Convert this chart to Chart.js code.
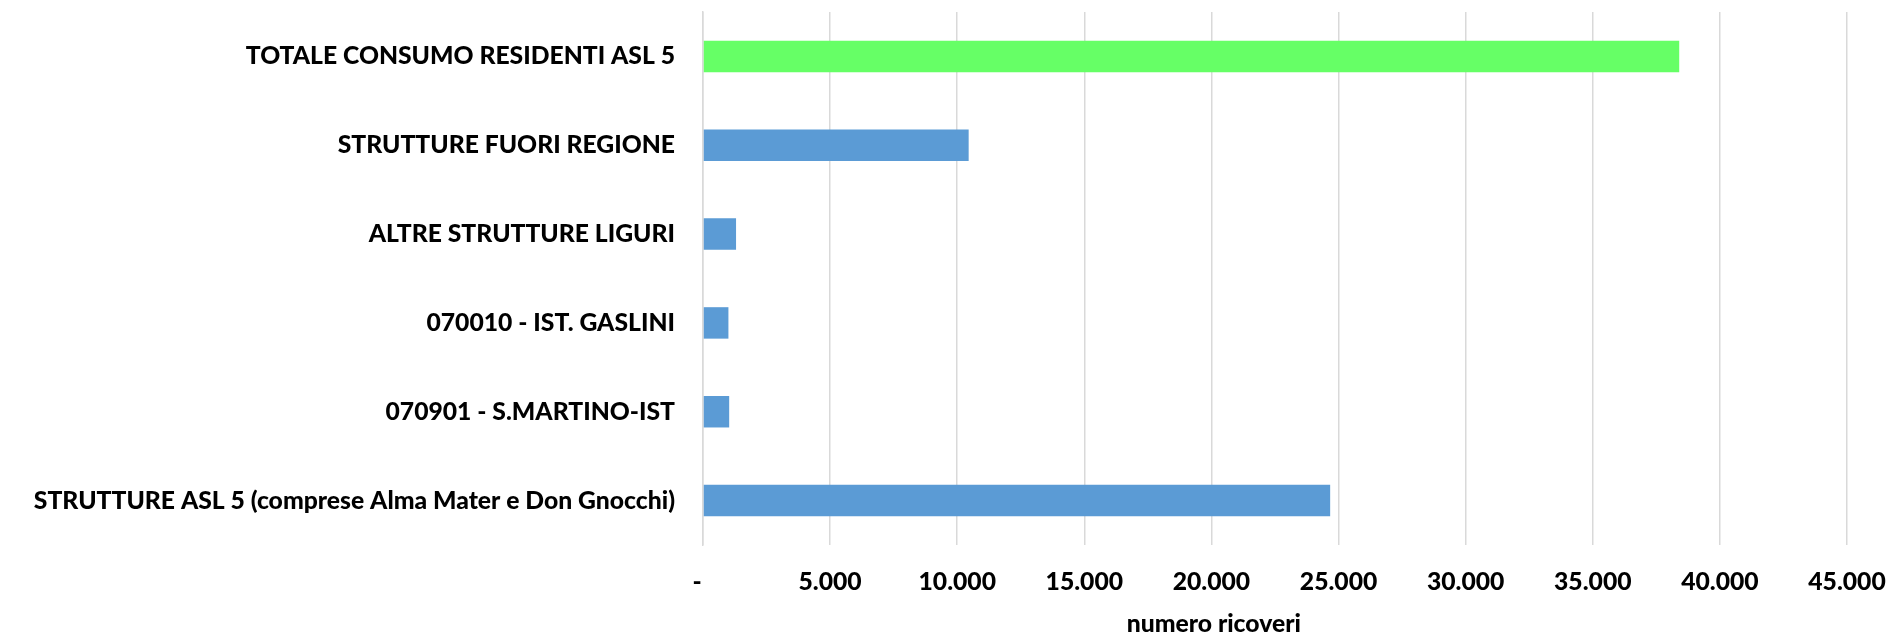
<!DOCTYPE html>
<html><head><meta charset="utf-8">
<script src="https://cdn.jsdelivr.net/npm/chart.js@4.4.0/dist/chart.umd.min.js"></script>
<style>html,body{margin:0;padding:0;background:#fff;overflow:hidden}canvas{display:block}</style>
</head><body><canvas id="c" width="1892" height="635"></canvas>
<script>
const categories = [
  "TOTALE CONSUMO RESIDENTI ASL 5",
  "STRUTTURE FUORI REGIONE",
  "ALTRE STRUTTURE LIGURI",
  "070010 - IST. GASLINI",
  "070901 - S.MARTINO-IST",
  "STRUTTURE ASL 5 (comprese Alma Mater e Don Gnocchi)"
];
const ricoveri = [38400, 10450, 1300, 1000, 1030, 24670];
const barColors = ["#66FF66", "#5B9BD5", "#5B9BD5", "#5B9BD5", "#5B9BD5", "#5B9BD5"];
const xTickValues = [0, 5000, 10000, 15000, 20000, 25000, 30000, 35000, 40000, 45000];
const xTitle = "numero ricoveri";

const FAMILY = "Lato";
const WEIGHT = 900;
const mctx = document.createElement('canvas').getContext('2d');

function fmt(v){
  if (v === 0) return "-  ";
  return String(v).replace(/\B(?=(\d{3})+(?!\d))/g, ".");
}

const titlePlugin = {
  id: 'xtitle',
  afterDraw(chart){
    const ca = chart.chartArea, ctx = chart.ctx;
    ctx.save();
    ctx.font = WEIGHT + " " + chart.options.scales.x.ticks.font.size + "px " + FAMILY;
    ctx.fillStyle = "#000";
    ctx.textAlign = "center";
    ctx.textBaseline = "alphabetic";
    ctx.fillText(xTitle, ca.left + (ca.right - ca.left) * 0.4465, chart.height - 3);
    ctx.restore();
  }
};

document.fonts.load(WEIGHT + " 20px " + FAMILY).then(start, start);
function start(){
mctx.font = WEIGHT + " 100px " + FAMILY;
const r1 = 662 / mctx.measureText(categories[5]).width;
const r2 = 417 / mctx.measureText(categories[0]).width;
const FS = Math.round(100 * Math.sqrt(r1 * r2) * 10) / 10;
new Chart(document.getElementById('c'), {
  type: 'bar',
  data: {
    labels: categories,
    datasets: [{
      data: ricoveri,
      backgroundColor: barColors,
      borderWidth: 0,
      categoryPercentage: 1,
      barPercentage: 0.354
    }]
  },
  options: {
    indexAxis: 'y',
    responsive: false,
    animation: false,
    devicePixelRatio: 1,
    layout: { padding: { top: 12, right: 45, left: 0, bottom: 0 } },
    plugins: { legend: { display: false }, tooltip: { enabled: false } },
    scales: {
      x: {
        min: 0, max: 45000,
        afterBuildTicks: s => { s.ticks = xTickValues.map(v => ({value: v})); },
        afterFit: s => { s.height = 90; s.paddingLeft = 0; s.paddingRight = 0; },
        grid: { color: "#D9D9D9", lineWidth: 1.5, drawTicks: false },
        border: { display: false },
        ticks: {
          callback: v => fmt(v),
          color: "#000",
          padding: 22,
          maxRotation: 0,
          autoSkip: false,
          font: { family: FAMILY, weight: WEIGHT, size: FS }
        }
      },
      y: {
        afterFit: s => { s.width = 703; s.paddingTop = 0; s.paddingBottom = 0; },
        grid: { display: false, drawTicks: false },
        border: { display: true, color: "#D9D9D9", width: 1.5 },
        ticks: {
          color: "#000",
          padding: 28,
          autoSkip: false,
          font: { family: FAMILY, weight: WEIGHT, size: FS }
        }
      }
    }
  },
  plugins: [titlePlugin]
});
}
</script>
</body></html>
